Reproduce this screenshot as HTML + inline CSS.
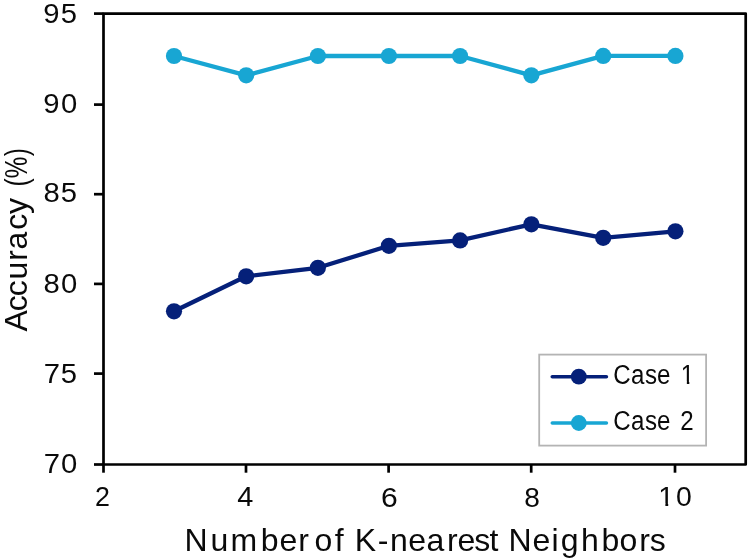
<!DOCTYPE html>
<html><head><meta charset="utf-8"><title>chart</title>
<style>
html,body{margin:0;padding:0;background:#fff;}
svg{display:block;will-change:transform;}
text{font-family:"Liberation Sans",sans-serif;fill:#0a0a0a;}
</style></head><body>
<svg width="750" height="560" viewBox="0 0 750 560">
<rect width="750" height="560" fill="#ffffff"/>
<rect x="103.5" y="13.6" width="642.2" height="450.9" fill="none" stroke="#000" stroke-width="2.7" stroke-linejoin="round"/>
<line x1="94" x2="103.5" y1="13.6" y2="13.6" stroke="#000" stroke-width="2.7"/>
<line x1="94" x2="103.5" y1="104.6" y2="104.6" stroke="#000" stroke-width="2.7"/>
<line x1="94" x2="103.5" y1="194.2" y2="194.2" stroke="#000" stroke-width="2.7"/>
<line x1="94" x2="103.5" y1="283.9" y2="283.9" stroke="#000" stroke-width="2.7"/>
<line x1="94" x2="103.5" y1="373.6" y2="373.6" stroke="#000" stroke-width="2.7"/>
<line x1="94" x2="103.5" y1="464.5" y2="464.5" stroke="#000" stroke-width="2.7"/>
<line x1="103.5" x2="103.5" y1="464.5" y2="472.7" stroke="#000" stroke-width="2.7"/>
<line x1="246.0" x2="246.0" y1="464.5" y2="472.7" stroke="#000" stroke-width="2.7"/>
<line x1="388.6" x2="388.6" y1="464.5" y2="472.7" stroke="#000" stroke-width="2.7"/>
<line x1="531.2" x2="531.2" y1="464.5" y2="472.7" stroke="#000" stroke-width="2.7"/>
<line x1="675.0" x2="675.0" y1="464.5" y2="472.7" stroke="#000" stroke-width="2.7"/>
<polyline points="174.0,56.0 246.2,75.3 317.9,56.0 388.9,56.0 460.1,56.0 531.35,75.3 603.2,55.9 675.4,55.9" fill="none" stroke="#18a6d3" stroke-width="4.3" stroke-linejoin="round"/>
<circle cx="174.0" cy="56.0" r="8.1" fill="#18a6d3"/>
<circle cx="246.2" cy="75.3" r="8.1" fill="#18a6d3"/>
<circle cx="317.9" cy="56.0" r="8.1" fill="#18a6d3"/>
<circle cx="388.9" cy="56.0" r="8.1" fill="#18a6d3"/>
<circle cx="460.1" cy="56.0" r="8.1" fill="#18a6d3"/>
<circle cx="531.35" cy="75.3" r="8.1" fill="#18a6d3"/>
<circle cx="603.2" cy="55.9" r="8.1" fill="#18a6d3"/>
<circle cx="675.4" cy="55.9" r="8.1" fill="#18a6d3"/>
<polyline points="174.0,311.3 246.2,276.3 317.9,267.8 388.9,245.8 460.1,240.4 531.35,224.3 603.2,237.8 675.4,231.3" fill="none" stroke="#052079" stroke-width="4.3" stroke-linejoin="round"/>
<circle cx="174.0" cy="311.3" r="8.1" fill="#052079"/>
<circle cx="246.2" cy="276.3" r="8.1" fill="#052079"/>
<circle cx="317.9" cy="267.8" r="8.1" fill="#052079"/>
<circle cx="388.9" cy="245.8" r="8.1" fill="#052079"/>
<circle cx="460.1" cy="240.4" r="8.1" fill="#052079"/>
<circle cx="531.35" cy="224.3" r="8.1" fill="#052079"/>
<circle cx="603.2" cy="237.8" r="8.1" fill="#052079"/>
<circle cx="675.4" cy="231.3" r="8.1" fill="#052079"/>
<rect x="539.2" y="354.6" width="166.9" height="91" fill="#fff" stroke="#b4b4b4" stroke-width="1.8"/>
<line x1="552.3" x2="606.4" y1="376.7" y2="376.7" stroke="#052079" stroke-width="3.6" stroke-linecap="round"/>
<circle cx="578.8" cy="376.7" r="7.9" fill="#052079"/>
<line x1="552.3" x2="606.4" y1="423.0" y2="423.0" stroke="#18a6d3" stroke-width="3.6" stroke-linecap="round"/>
<circle cx="578.8" cy="423.0" r="7.9" fill="#18a6d3"/>
<text y="551.1" font-size="32" x="184.59 210.48 230.51 260.74 279.53 298.18 308.83 314.55 334.80 343.70 354.70 377.72 389.93 408.13 426.42 446.88 457.48 474.13 489.43 498.32 508.44 532.43 551.45 560.81 581.03 601.54 619.45 639.23 649.78">Number of K-nearest Neighbors</text>
<text transform="translate(27.0,0) rotate(-90)" y="0" font-size="32" x="-331.42 -311.21 -296.36 -279.62 -260.82 -249.58 -229.76 -213.96">Accuracy</text>
<text transform="translate(27.0,0) rotate(-90) scale(0.76,1)" y="0" font-size="32" x="-245.31 -234.69 -205.45">(%)</text>
<clipPath id="cl1"><rect x="600" y="355" width="100" height="26.55"/><rect x="686.85" y="380" width="2.45" height="8"/><rect x="600" y="380" width="75" height="10"/></clipPath>
<g clip-path="url(#cl1)"><text transform="translate(0,384.3) scale(0.88,1)" y="0" font-size="27.4" x="696.86 717.14 732.92 746.73 761.96 773.63">Case 1</text></g>
<g><text transform="translate(0,430.3) scale(0.88,1)" y="0" font-size="27.4" x="696.86 717.14 732.92 746.73 761.96 772.95">Case 2</text></g>
<clipPath id="cl2"><rect x="650" y="478" width="50" height="25.57"/><rect x="665.37" y="500" width="2.83" height="9"/><rect x="674.5" y="500" width="26" height="10"/></clipPath>
<g clip-path="url(#cl2)"><text y="506.4" font-size="28.4" x="658.24 676.05">10</text></g>
<text transform="translate(0,23.1) scale(1.03,1)" y="0" font-size="28.4" x="41.96 59.07">95</text>
<text transform="translate(0,113.1) scale(1.03,1)" y="0" font-size="28.4" x="41.96 59.29">90</text>
<text transform="translate(0,202.15) scale(1.03,1)" y="0" font-size="28.4" x="42.20 59.07">85</text>
<text transform="translate(0,293.15) scale(1.03,1)" y="0" font-size="28.4" x="42.20 59.29">80</text>
<text transform="translate(0,382.9) scale(1.03,1)" y="0" font-size="28.4" x="42.38 59.07">75</text>
<text transform="translate(0,472.65) scale(1.03,1)" y="0" font-size="28.4" x="42.38 59.29">70</text>
<text x="95.05" y="506.35" font-size="28.4" textLength="14.93" lengthAdjust="spacingAndGlyphs">2</text>
<text x="237.25" y="506.35" font-size="28.4" textLength="16.08" lengthAdjust="spacingAndGlyphs">4</text>
<text x="380.90" y="506.55" font-size="28.4" textLength="16.72" lengthAdjust="spacingAndGlyphs">6</text>
<text x="524.35" y="506.55" font-size="28.4" textLength="15.61" lengthAdjust="spacingAndGlyphs">8</text>
</svg></body></html>
